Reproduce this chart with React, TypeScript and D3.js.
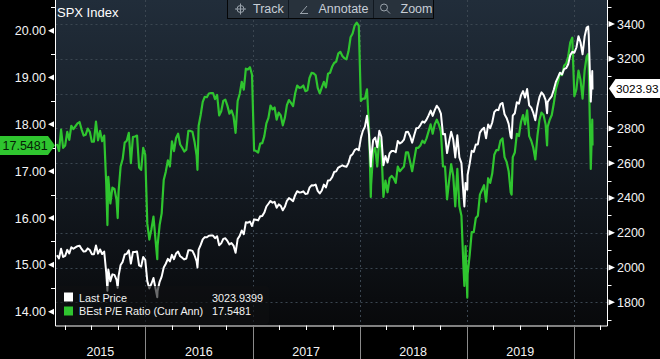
import React from "react";
import * as d3 from "d3";

const W = 660;
const H = 359;

// Weekly (Friday) closes starting at this date
const firstWeek = "2015-03-06";

const price2015 = [2071,2053,2108,2061, 2067,2102,2081,2117, 2108,2116,2123,2126,2107, 2092,2094,2110,2101, 2077,2077,2127,2080,2104, 2078,2092,1971,1989, 1921,1961,1958,1931, 1951,2015,2033,2075,2079, 2099,2023,2089,2090, 2092,2012,2006,2061];
const price2016 = [2044,1922,1880,1907,1940, 1880,1865,1918,1948, 2000,2022,2050,2035, 2073,2048,2081,2092,2065, 2057,2047,2052,2099, 2099,2096,2071,2037, 2103,2130,2162,2175,2174, 2183,2184,2184,2169, 2180,2128,2139,2165,2168, 2153,2133,2141,2126, 2085,2164,2182,2213, 2192,2260,2258,2264,2239];
const price2017 = [2277,2275,2271,2295, 2297,2316,2351,2367, 2383,2373,2378,2344,2363, 2355,2329,2349,2384, 2399,2391,2382,2416, 2439,2432,2433,2438,2423, 2425,2459,2473,2472, 2477,2441,2426,2443, 2477,2461,2500,2502,2519, 2549,2553,2575,2581, 2588,2582,2579,2602, 2642,2652,2675,2683,2674];
const price2018 = [2743,2786,2810,2873, 2762,2620,2732,2747, 2691,2786,2752,2588,2641, 2604,2656,2670,2670, 2663,2728,2713,2721, 2735,2779,2780,2755,2718, 2760,2801,2802,2819, 2840,2833,2850,2875,2902, 2872,2905,2930,2914, 2885,2767,2768,2658, 2723,2781,2736,2633,2760, 2633,2600,2417,2486];
const price2019 = [2532,2596,2671,2665, 2707,2708,2776,2793, 2804,2743,2822,2801,2834, 2893,2907,2905,2940, 2946,2881,2860,2826,2752, 2873,2887,2950,2942, 2990,3014,2977,3026, 2932,2919,2889,2847,2926, 2979,3007,2992,2962, 2952,2970,2986,3023, 3067,3093,3120,3110,3141, 3146,3169,3221,3240];
const price2020 = [3235,3265,3330,3295,3226, 3328,3380,3338,2954];

const pe2015 = [17.58,17.43,17.89,17.5, 17.55,17.84,17.67,17.97, 17.9,17.96,18.02,18.05,17.89, 17.76,17.78,17.91,17.84, 17.63,17.63,18.06,17.66,17.86, 17.64,17.76,16.73,16.88, 16.31,16.65,16.62,16.39, 16.56,17.1,17.26,17.61,17.65, 17.82,17.17,17.73,17.74, 17.76,17.08,17.03,17.5];
const pe2016 = [17.35,15.88,15.54,15.76,16.03, 15.54,15.41,15.85,16.1, 16.81,16.99,17.23,17.1, 17.64,17.43,17.71,17.8,17.57, 17.5,17.42,17.46,17.86, 17.86,17.84,17.63,17.34, 17.97,18.2,18.48,18.59,18.58, 18.66,18.67,18.67,18.54, 18.63,18.19,18.28,18.5,18.53, 18.4,18.23,18.3,18.17, 17.82,18.5,18.65,18.91, 18.74,19.19,19.17,19.22,19.06];
const pe2017 = [17.45,17.43,17.4,17.59, 17.6,17.75,18.02,18.14, 18.4,18.32,18.36,18.1,18.25, 18.19,17.98,18.14,18.41, 18.52,18.46,18.39,18.66, 18.83,18.78,18.79,18.83,18.71, 18.73,18.99,19.1,19.09, 19.05,18.78,18.66,18.79, 18.91,18.79,19.08,19.1,19.23, 19.31,19.34,19.51,19.55, 19.46,19.41,19.39,19.56, 19.86,19.94,20.11,20.17,20.11];
const pe2018 = [18.5,18.55,18.55,18.75, 17.9,16.7,17.4,17.5, 17.1,17.7,17.5,16.45,16.8, 16.55,16.85,16.9,16.85, 16.75,17.1,17.0,17.05, 17.1,17.4,17.4,17.2,17.0, 17.25,17.5,17.5,17.55, 17.65,17.6,17.7,17.85,18.0, 17.8,18.0,18.1,18.0, 17.85,17.1,17.1,16.4, 16.8,17.15,16.9,16.25,17.05, 16.25,16.05,14.95,15.4];
const pe2019 = [14.8,15.2,15.7,15.7, 16.0,16.05,16.5,16.6, 16.7,16.35,16.85,16.75,16.95, 17.35,17.45,17.45,17.65, 17.7,17.3,17.2,17.0,16.55, 17.3,17.4,17.8,17.75, 18.05,18.2,18.0,18.3, 17.75,17.65,17.5,17.25,17.75, 18.1,18.25,18.2,18.0, 17.95,18.1,18.2,18.45, 18.75,18.9,19.1,19.05,19.25, 19.3,19.45,19.75,19.85];
const pe2020 = [18.6,18.75,19.15,18.95,18.55, 19.15,19.45,19.25,17.05];

// Intra-week extremes and the final days
const extraDates = ["2015-08-25","2015-09-29","2016-02-11","2016-06-27","2018-02-08","2018-12-24","2019-01-03","2019-06-03","2019-10-02","2020-02-19","2020-03-04","2020-03-05"];
const extraPrice = [1867,1884,1829,2001,2581,2351,2448,2744,2887,3386,3130,3023.94];
const extraPe = [15.85,16.0,15.12,17.03,16.45,14.55,14.3,16.5,17.55,19.5,18.1,17.5481];

const leftTicks = [14, 15, 16, 17, 18, 19, 20];
const leftMinor = [14.5, 15.5, 16.5, 17.5, 18.5, 19.5, 20.5];
const rightTicks = [1800, 2000, 2200, 2400, 2600, 2800, 3200, 3400];
const rightGrid = [1800, 2000, 2200, 2400, 2600, 2800, 3000, 3200, 3400];
const rightMinor = [1700, 1900, 2100, 2300, 2500, 2700, 2900, 3100, 3300, 3500];
const yearBounds = ["2016-01-01", "2017-01-01", "2018-01-01", "2019-01-01", "2020-01-01"];
const yearLabels = ["2015", "2016", "2017", "2018", "2019"];
const domainDates = ["2015-03-01", "2020-04-25"];

const lastPrice = 3023.9399;
const lastPe = 17.5481;
const seriesNames = ["Last Price", "BEst P/E Ratio (Curr Ann)"];

const GREEN = "#2fc52f";
const FONT = "'Liberation Sans', Arial, sans-serif";

const parse = d3.utcParse("%Y-%m-%d");

function buildPoints() {
  const start = parse(firstWeek) as Date;
  const prices = [...price2015, ...price2016, ...price2017, ...price2018, ...price2019, ...price2020];
  const pes = [...pe2015, ...pe2016, ...pe2017, ...pe2018, ...pe2019, ...pe2020];
  const pts = prices.map((p, i) => ({ date: d3.utcDay.offset(start, 7 * i), price: p, pe: pes[i] }));
  extraDates.forEach((d, i) => pts.push({ date: parse(d) as Date, price: extraPrice[i], pe: extraPe[i] }));
  pts.sort((a, b) => +a.date - +b.date);
  return pts;
}

export default function App() {
  const L = 55.5, R = 607.5, T = 0, B = 325.5;
  const x = d3.scaleUtc().domain(domainDates.map((d) => parse(d) as Date)).range([L, R]);
  const yL = d3.scaleLinear().domain([13.705, 20.656]).range([B, T]);
  const yR = d3.scaleLinear().domain([1667, 3538]).range([B, T]);
  const pts = buildPoints();

  const priceLine = d3.line<any>().x((d) => x(d.date)).y((d) => yR(d.price))(pts) || "";
  const peLine = d3.line<any>().x((d) => x(d.date)).y((d) => yL(d.pe))(pts) || "";

  const bounds = yearBounds.map((d) => x(parse(d) as Date));
  const edges = [L, ...bounds];
  const quarters = x.ticks(d3.utcMonth.every(3) as any).filter((d) => d.getUTCMonth() !== 0);

  const yPe = yL(lastPe);
  const yPx = yR(lastPrice) - 1;

  return (
    <svg width={W} height={H} style={{ position: "absolute", left: 0, top: 0, display: "block" }} fontFamily={FONT}>
      <defs>
        <linearGradient id="bg" x1="0" y1="0" x2="0" y2="1">
          <stop offset="0" stopColor="#212d3a" />
          <stop offset="0.5" stopColor="#151c24" />
          <stop offset="1" stopColor="#08090b" />
        </linearGradient>
        <clipPath id="plot">
          <rect x={L} y={T} width={R - L} height={B - T} />
        </clipPath>
      </defs>
      <rect x={0} y={0} width={W} height={H} fill="#000" />
      <rect x={L} y={T} width={R - L} height={B - T} fill="url(#bg)" />

      {/* grid */}
      {rightGrid.map((v) => (
        <line key={"g" + v} x1={L} x2={R} y1={Math.round(yR(v)) + 0.5} y2={Math.round(yR(v)) + 0.5} stroke="#3b4651" strokeDasharray="2,3" />
      ))}
      {bounds.map((bx, i) => (
        <line key={"v" + i} x1={Math.round(bx) + 0.5} x2={Math.round(bx) + 0.5} y1={T} y2={B} stroke="#3b4651" strokeDasharray="2,3" />
      ))}

      {/* series */}
      <g clipPath="url(#plot)">
        <path d={peLine} fill="none" stroke={GREEN} strokeWidth={2.2} strokeLinejoin="round" />
        <path d={priceLine} fill="none" stroke="#ffffff" strokeWidth={2} strokeLinejoin="round" />
      </g>

      {/* title */}
      <text x={57} y={17} fill="#ffffff" fontSize={13}>SPX Index</text>

      {/* toolbar */}
      <g>
        <rect x={227.5} y={-1} width={206} height={19.5} fill="#28323c" stroke="#050607" />
        <line x1={288.5} x2={288.5} y1={0} y2={18} stroke="#111820" />
        <line x1={373.5} x2={373.5} y1={0} y2={18} stroke="#111820" />
        <g stroke="#9aa3ac" fill="none" strokeWidth={1}>
          <circle cx={240.5} cy={9} r={3.5} />
          <line x1={235} x2={246} y1={9} y2={9} />
          <line x1={240.5} x2={240.5} y1={3.5} y2={14.5} />
          <line x1={301} x2={307} y1={13} y2={6} />
          <line x1={300} x2={308} y1={13.5} y2={13.5} />
          <circle cx={384} cy={7.5} r={3.5} />
          <line x1={386.5} x2={390} y1={10} y2={13.5} />
        </g>
        <g fill="#c7ced6" fontSize={12.5}>
          <text x={253} y={13}>Track</text>
          <text x={318.5} y={13}>Annotate</text>
          <text x={400.5} y={13}>Zoom</text>
        </g>
      </g>

      {/* legend */}
      <g>
        <rect x={56} y={286} width={213} height={38} rx={3} fill="#0e1012" fillOpacity={0.62} />
        <rect x={64} y={292.5} width={9} height={9} fill="#ffffff" />
        <rect x={64} y={306.5} width={9} height={9} fill={GREEN} />
        <g fill="#f2f2f2" fontSize={10.8}>
          <text x={79} y={301.5}>{seriesNames[0]}</text>
          <text x={79} y={315}>{seriesNames[1]}</text>
          <text x={212} y={301.5}>{d3.format(".4f")(lastPrice)}</text>
          <text x={212} y={315}>{d3.format(".4f")(lastPe)}</text>
        </g>
      </g>

      {/* axes lines */}
      <g stroke="#ffffff" strokeWidth={1}>
        <line x1={L} x2={L} y1={0} y2={B + 0.5} />
        <line x1={R} x2={R} y1={0} y2={B + 0.5} />
        <line x1={L} x2={R} y1={B + 0.5} y2={B + 0.5} />
      </g>

      {/* left axis */}
      {leftMinor.map((v) => (
        <line key={"lm" + v} x1={51} x2={L} y1={Math.round(yL(v)) + 0.5} y2={Math.round(yL(v)) + 0.5} stroke="#ffffff" />
      ))}
      {leftTicks.map((v) => {
        const y = yL(v);
        return (
          <g key={"lt" + v}>
            <polygon points={`48,${y} 54,${y - 3} 54,${y + 3}`} fill="#ffffff" />
            <text x={46} y={y + 4.5} textAnchor="end" fill="#f4f4f4" fontSize={12.5}>{d3.format(".2f")(v)}</text>
          </g>
        );
      })}

      {/* right axis */}
      {rightMinor.map((v) => (
        <line key={"rm" + v} x1={R} x2={R + 4} y1={Math.round(yR(v)) + 0.5} y2={Math.round(yR(v)) + 0.5} stroke="#ffffff" />
      ))}
      {rightTicks.map((v) => {
        const y = yR(v);
        return (
          <g key={"rt" + v}>
            <polygon points={`615,${y} 608.5,${y - 3} 608.5,${y + 3}`} fill="#ffffff" />
            <text x={617} y={y + 4.5} fill="#f4f4f4" fontSize={12.5}>{v}</text>
          </g>
        );
      })}

      {/* bottom axis */}
      {quarters.map((d, i) => (
        <line key={"q" + i} x1={Math.round(x(d)) + 0.5} x2={Math.round(x(d)) + 0.5} y1={B} y2={B + 4.5} stroke="#ffffff" />
      ))}
      {bounds.map((bx, i) => (
        <line key={"yb" + i} x1={Math.round(bx) + 0.5} x2={Math.round(bx) + 0.5} y1={B + 1} y2={H} stroke="#8a8a8a" />
      ))}
      {yearLabels.map((lab, i) => (
        <text key={lab} x={(edges[i] + edges[i + 1]) / 2} y={356} textAnchor="middle" fill="#f4f4f4" fontSize={12.5}>{lab}</text>
      ))}

      {/* current value tags */}
      <path d={`M0,${yPe - 9.5} L48,${yPe - 9.5} L55,${yPe} L48,${yPe + 9.5} L0,${yPe + 9.5} Z`} fill={GREEN} />
      <text x={2.5} y={yPe + 4.5} fill="#062006" fontSize={12.5}>{d3.format(".4f")(lastPe)}</text>
      <path d={`M609,${yPx} L615.5,${yPx - 9.5} L660,${yPx - 9.5} L660,${yPx + 9.5} L615.5,${yPx + 9.5} Z`} fill="#ffffff" />
      <text x={616} y={yPx + 4.5} fill="#000000" fontSize={11.8}>{d3.format(".2f")(Math.floor(lastPrice * 100) / 100)}</text>
    </svg>
  );
}
